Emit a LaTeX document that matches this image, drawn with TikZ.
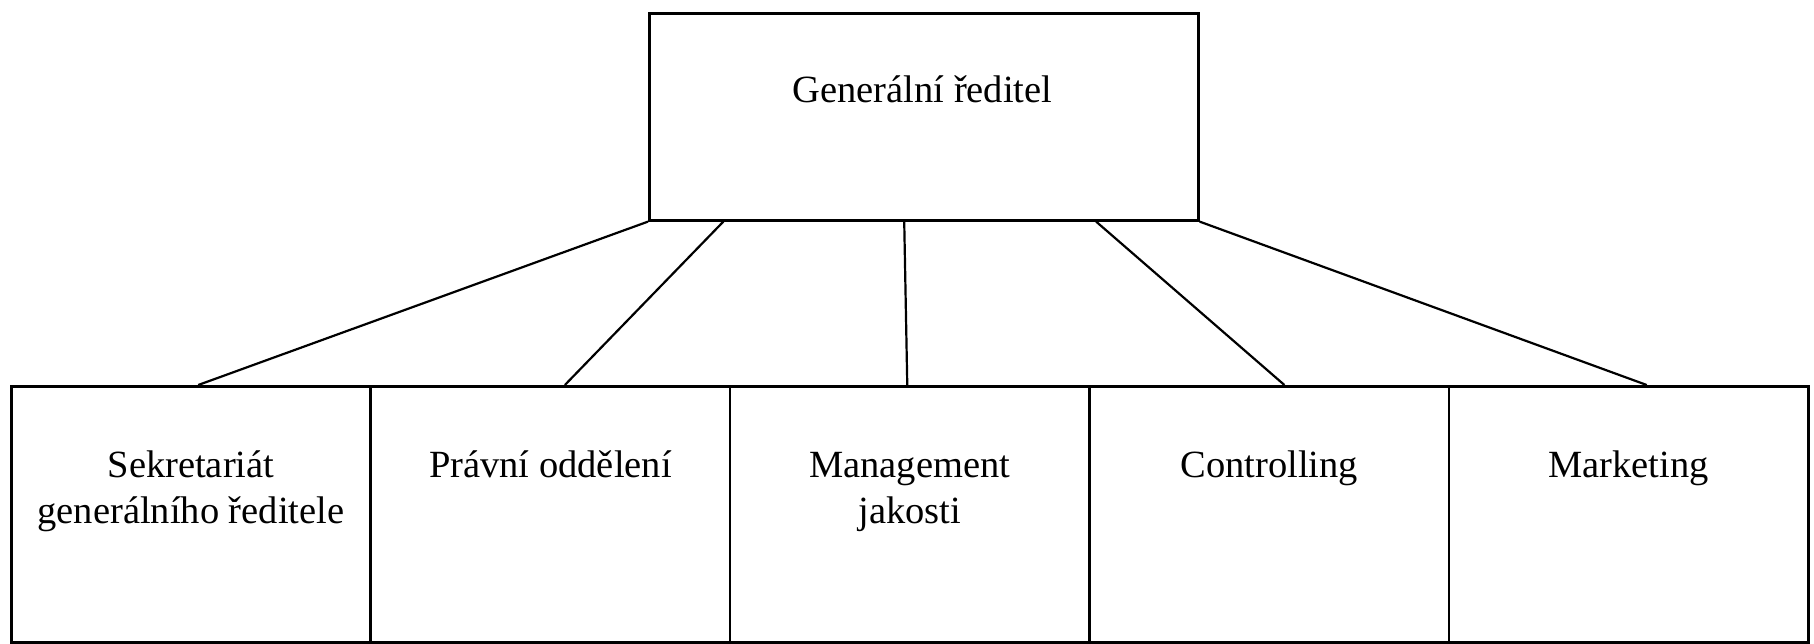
\documentclass[tikz,border=0pt]{standalone}
\usepackage{fontspec}
\setmainfont{Liberation Serif}
\usetikzlibrary{calc}
\begin{document}
\begin{tikzpicture}[x=0.5pt,y=-0.5pt,
  boxst/.style={draw=black, line width=1.3pt, inner sep=0pt, anchor=north west},
  unit/.style={boxst, minimum width=179.7pt, minimum height=128pt},
  lbl/.style={inner sep=0pt, align=center, font=\fontsize{19.25}{23}\selectfont},
  conn/.style={draw=black, line width=1.1pt}]
\useasboundingbox (0,0) rectangle (1814,643);
\node[boxst, minimum width=274.5pt, minimum height=103.5pt] (gr) at (648,12) {};
\node[unit] (b1) at (10,385) {};
\node[unit] (b2) at (369.4,385) {};
\node[unit] (b3) at (728.8,385) {};
\node[unit] (b4) at (1088.2,385) {};
\node[unit] (b5) at (1447.6,385) {};
\node[lbl, anchor=base] (tgr) at (922.5,102) {Generální ředitel};
\node[lbl, anchor=north] (t1) at ($(b1.north)+(0,59.8)$) {\strut Sekretariát\\\strut generálního ředitele};
\node[lbl, anchor=north] (t2) at ($(b2.north)+(0,59.8)$) {\strut Právní oddělení};
\node[lbl, anchor=north] (t3) at ($(b3.north)+(0,59.8)$) {\strut Management\\\strut jakosti};
\node[lbl, anchor=north] (t4) at ($(b4.north)+(0,59.8)$) {\strut Controlling};
\node[lbl, anchor=north] (t5) at ($(b5.north)+(0,59.8)$) {\strut Marketing};
\draw[conn] (gr.south west) -- ($(b1.north west)!0.52!(b1.north east)$);
\draw[conn] ($(gr.south west)!0.1366!(gr.south east)$) -- ($(b2.north west)!0.54!(b2.north east)$);
\draw[conn] ($(gr.south west)!0.4645!(gr.south east)$) -- ($(b3.north west)!0.493!(b3.north east)$);
\draw[conn] ($(gr.south west)!0.8124!(gr.south east)$) -- ($(b4.north west)!0.542!(b4.north east)$);
\draw[conn] (gr.south east) -- ($(b5.north west)!0.55!(b5.north east)$);
\end{tikzpicture}
\end{document}
